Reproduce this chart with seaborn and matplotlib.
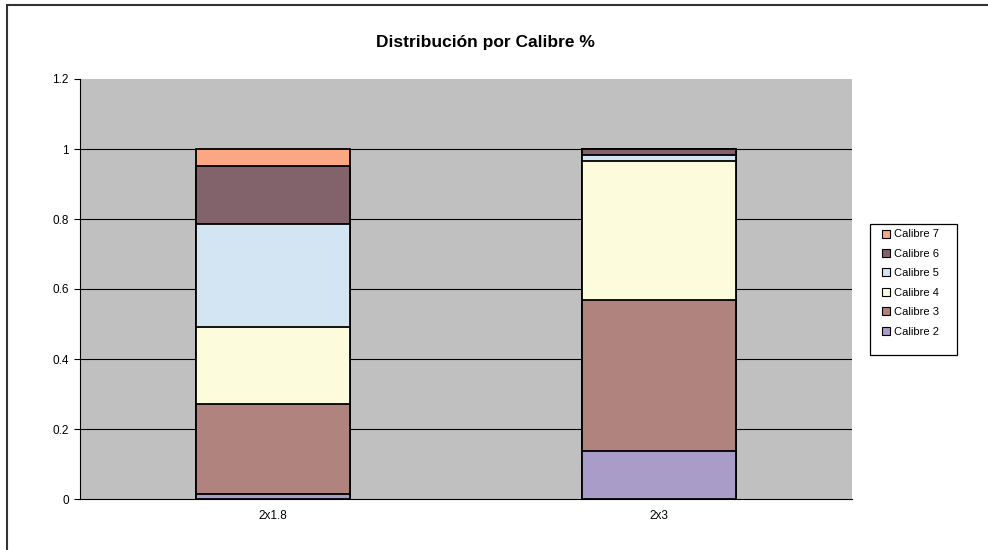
import matplotlib
matplotlib.use("Agg")
import matplotlib.pyplot as plt
from matplotlib.patches import Rectangle
from matplotlib.lines import Line2D
import seaborn as sns
import pandas as pd
import numpy as np

categories = ["2x1.8", "2x3"]
series_names = ["Calibre 2", "Calibre 3", "Calibre 4", "Calibre 5", "Calibre 6", "Calibre 7"]
calibre2 = [0.014, 0.137]
calibre3 = [0.257, 0.431]
calibre4 = [0.220, 0.398]
calibre5 = [0.296, 0.018]
calibre6 = [0.165, 0.016]
calibre7 = [0.048, 0.000]
colors = ["#AA9CC8", "#B0837E", "#FCFBDC", "#D3E5F3", "#82636C", "#FBA784"]
title = "Distribución por Calibre %"

series = [calibre2, calibre3, calibre4, calibre5, calibre6, calibre7]

sns.set_theme(style="white")
plt.rcParams["font.family"] = ["Liberation Sans", "DejaVu Sans"]
plt.rcParams["text.color"] = "black"
plt.rcParams["xtick.color"] = "black"
plt.rcParams["ytick.color"] = "black"

fig = plt.figure(figsize=(9.88, 5.5), dpi=100)
ax = fig.add_axes([80 / 988, 1 - 499 / 550, (852 - 80) / 988, (499 - 79) / 550])
ax.set_facecolor("#C0C0C0")

cum = np.cumsum(np.array(series), axis=0)
# draw tallest cumulative first so lower segments overlay
for i in range(len(series) - 1, -1, -1):
    df = pd.DataFrame({"cat": categories, "val": cum[i]})
    sns.barplot(data=df, x="cat", y="val", color=colors[i], width=0.4,
                edgecolor="black", linewidth=1.3, saturation=1, ax=ax, zorder=3)

ax.set_ylim(0, 1.2)
ax.set_xlim(-0.5, 1.5)
ax.set_yticks(np.arange(0, 1.21, 0.2))
ax.set_yticklabels(["0", "0.2", "0.4", "0.6", "0.8", "1", "1.2"], fontsize=8.5, color="black")
ax.set_xticks([0, 1])
ax.set_xticklabels(categories, fontsize=8.5, color="black")
ax.tick_params(axis="x", length=0, pad=8)
ax.tick_params(axis="y", length=4, width=0.8, color="black", pad=4, left=True, direction="out")
ax.set_xlabel("")
ax.set_ylabel("")
for y in np.arange(0.2, 1.01, 0.2):
    ax.axhline(y, color="black", linewidth=0.8, zorder=1)
for s in ["top", "right"]:
    ax.spines[s].set_visible(False)
ax.spines["left"].set_color("black")
ax.spines["left"].set_linewidth(0.8)
ax.spines["bottom"].set_color("black")
ax.spines["bottom"].set_linewidth(0.8)
ax.spines["bottom"].set_zorder(5)

fig.text(485 / 988, 1 - 43 / 550, title, ha="center", va="center",
         fontsize=12.5, fontweight="bold", color="black")

handles = [Line2D([], [], marker="s", linestyle="none", markersize=6,
                  markerfacecolor=colors[i], markeredgecolor="black", markeredgewidth=0.8)
           for i in range(len(series_names))]
leg = fig.legend(handles[::-1], series_names[::-1], loc="center left",
                 bbox_to_anchor=(874 / 988, 1 - 283 / 550), fontsize=8,
                 frameon=False, handletextpad=0.1,
                 labelspacing=0.85, borderpad=0.0, handlelength=1.2)
for t in leg.get_texts():
    t.set_color("black")

fig.patches.append(Rectangle((870 / 988, 1 - 355 / 550), 87 / 988, 131 / 550,
                             transform=fig.transFigure, fill=False,
                             edgecolor="black", linewidth=0.9))

fig.patches.append(Rectangle((7 / 988, -0.1), 1.1, 1 - 5 / 550 + 0.1,
                             transform=fig.transFigure, fill=False,
                             edgecolor="#333333", linewidth=1.5))

fig.savefig("out.png", dpi=100)
